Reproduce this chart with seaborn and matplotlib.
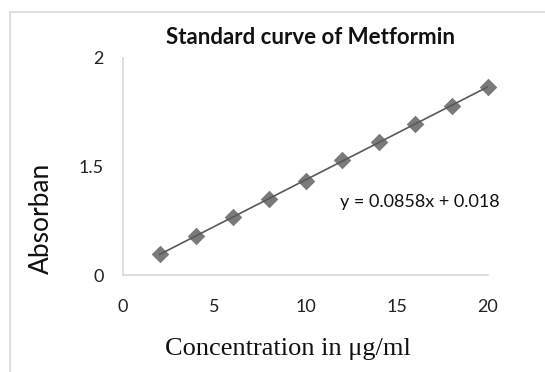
import pandas as pd
import seaborn as sns
import matplotlib.pyplot as plt
from matplotlib.patches import Rectangle

concentration = [2, 4, 6, 8, 10, 12, 14, 16, 18, 20]
absorbance = [0.19, 0.36, 0.53, 0.70, 0.87, 1.06, 1.23, 1.39, 1.56, 1.73]
y_ticks = [0, 1, 2]
y_tick_labels = ['0', '1.5', '2']
x_ticks = [0, 5, 10, 15, 20]
equation = 'y = 0.0858x + 0.018'

sns.set_style('white')
plt.rcParams['font.family'] = ['Lato', 'DejaVu Sans']

data = pd.DataFrame({'conc': concentration, 'abs': absorbance})

fig = plt.figure(figsize=(5.45, 3.72), dpi=100)
ax = fig.add_axes([123 / 545, 1 - 275 / 372, 365 / 545, 217 / 372])

# outer chart border like the spreadsheet frame
fig.patches.append(Rectangle((10 / 545, -0.1), 1.2, 1 - 12 / 372 + 0.1,
                             transform=fig.transFigure, fill=False,
                             edgecolor='#d9d9d9', linewidth=1.2))

sns.regplot(data=data, x='conc', y='abs', ci=None, truncate=True, ax=ax,
            marker='D', color='#595959',
            scatter_kws={'s': 80, 'zorder': 3, 'linewidths': 0, 'clip_on': False},
            line_kws={'color': '#595959', 'linewidth': 1.2})

ax.set_xlim(0, 20)
ax.set_ylim(0, 2)
ax.set_xticks(x_ticks)
ax.set_yticks(y_ticks)
ax.set_yticklabels(y_tick_labels)
ax.tick_params(labelsize=13, colors='#222222', length=0)
ax.tick_params(axis='x', pad=17)
ax.tick_params(axis='y', pad=14)

for side in ['top', 'right']:
    ax.spines[side].set_visible(False)
for side in ['left', 'bottom']:
    ax.spines[side].set_color('#d9d9d9')
    ax.spines[side].set_linewidth(1.2)

ax.set_xlabel('Concentration in μg/ml', fontsize=19, family=['Liberation Serif'],
              color='#111111')
ax.xaxis.set_label_coords(0.452, -0.29)
ax.set_ylabel('Absorban', fontsize=19, color='#111111')
ax.yaxis.set_label_coords(-0.19, 0.26)
fig.text(310 / 545, 1 - 37 / 372, 'Standard curve of Metformin', fontsize=16,
         fontweight='bold', ha='center', va='center', color='#111111')

ax.text(16.27, 2 * (275 - 202) / 217, equation, fontsize=13,
        ha='center', va='center', color='#111111')

plt.savefig('out.png', dpi=100)
plt.close()
